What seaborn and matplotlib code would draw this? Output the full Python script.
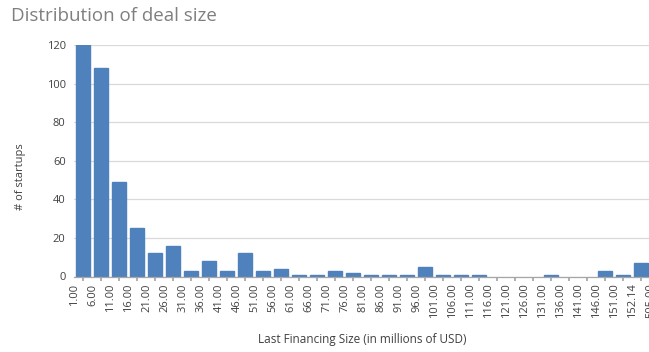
import matplotlib
matplotlib.use("Agg")
import matplotlib.pyplot as plt
import matplotlib.transforms as mtransforms
import seaborn as sns
import pandas as pd

categories = ["1.00", "6.00", "11.00", "16.00", "21.00", "26.00", "31.00", "36.00",
              "41.00", "46.00", "51.00", "56.00", "61.00", "66.00", "71.00", "76.00",
              "81.00", "86.00", "91.00", "96.00", "101.00", "106.00", "111.00", "116.00",
              "121.00", "126.00", "131.00", "136.00", "141.00", "146.00", "151.00", "152.14",
              "505.00"]
counts = [120, 108, 49, 25, 12, 16, 3, 8,
          3, 12, 3, 4, 1, 1, 3, 2,
          1, 1, 1, 5, 1, 1, 1, 0,
          0, 0, 1, 0, 0, 3, 1, 7,
          1]
y_ticks = [0, 20, 40, 60, 80, 100, 120]

df = pd.DataFrame({"size": categories, "count": counts})

sns.set_theme(style="white")
plt.rcParams["font.family"] = ["Open Sans", "DejaVu Sans"]

fig = plt.figure(figsize=(6.49, 3.52), dpi=100)
W, H = 649, 352
left, right, top, bottom = 74, 74 + 33 * 18, 45, 276.5
ax = fig.add_axes([left / W, 1 - bottom / H, (right - left) / W, (bottom - top) / H])

sns.barplot(data=df, x="size", y="count", order=categories, color="#4F81BD",
            saturation=1, width=0.8, edgecolor="#4F81BD", linewidth=1.0, ax=ax)
for p in ax.patches:
    if p.get_height() == 0:
        p.set_linewidth(0)

ax.set_ylim(0, 120)
ax.set_xlim(-0.5, len(categories) - 0.5)
ax.set_yticks(y_ticks)
ax.yaxis.grid(True, color="#D9D9D9", linewidth=0.9)
ax.set_axisbelow(True)
for s in ["top", "right", "left"]:
    ax.spines[s].set_visible(False)
ax.spines["bottom"].set_color("#A6A6A6")
ax.spines["bottom"].set_linewidth(0.9)

ax.tick_params(axis="y", length=0, labelsize=8, labelcolor="#404040", pad=6)
ax.tick_params(axis="x", length=3, color="#A6A6A6", labelsize=8, labelcolor="#404040",
               pad=2, direction="out", bottom=True)
plt.setp(ax.get_xticklabels(), rotation=90)
offset = mtransforms.ScaledTranslation(-8 / 100, 0, fig.dpi_scale_trans)
for lbl in ax.get_xticklabels():
    lbl.set_transform(lbl.get_transform() + offset)

ax.set_xlabel("")
ax.set_ylabel("")
fig.text(362 / W, 1 - 340 / H, "Last Financing Size (in millions of USD)",
         ha="center", va="center", fontsize=8.5, color="#404040")
fig.text(20 / W, 1 - 177 / H, "# of startups", rotation=90,
         ha="center", va="center", fontsize=8, color="#404040")
fig.text(11 / W, 1 - 16 / H, "Distribution of deal size",
         ha="left", va="center", fontsize=13.5, color="#7F7F7F")

fig.savefig("out.png", dpi=100)
